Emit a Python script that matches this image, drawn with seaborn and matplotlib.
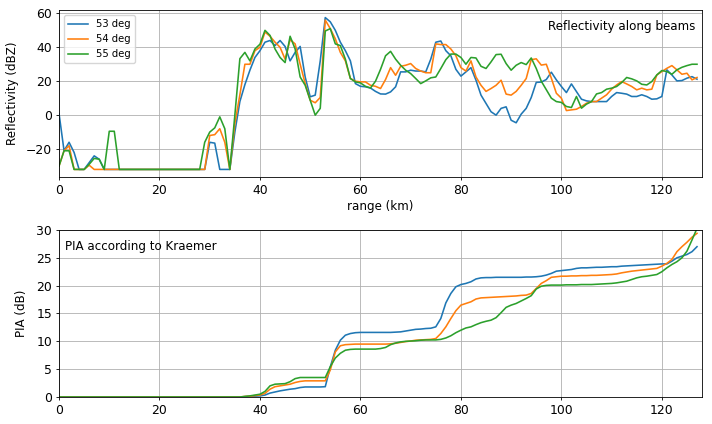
import matplotlib
matplotlib.use("Agg")
import matplotlib.pyplot as plt
import numpy as np
import pandas as pd
import seaborn as sns

# range bins (km)
rng = np.arange(128)
beams = ["53 deg", "54 deg", "55 deg"]
colors = ["#1f77b4", "#ff7f0e", "#2ca02c"]

# reflectivity along beams (dBZ)
refl_53 = [1, -21, -16, -22, -32, -32, -28, -24, -26, -32,
           -32, -32, -32, -32, -32, -32, -32, -32, -32, -32,
           -32, -32, -32, -32, -32, -32, -32, -32, -32, -32,
           -16, -16.5, -32, -32, -32, -10, 8, 18, 26.5, 34,
           38, 43, 44, 41, 44, 40.5, 32, 37, 40.5, 22.5,
           10.8, 11.8, 32, 57.5, 55, 50, 43, 38, 32, 18.6,
           17, 16.7, 16, 14, 12.5, 12.4, 13.7, 16.7, 25.5, 25.5,
           26.5, 26, 26, 25.5, 33, 43, 43.7, 38, 35, 27,
           23, 25.5, 28, 20.6, 11.8, 6.9, 2, 0, 4, 4.9,
           -3, -4.5, 0.6, 4, 10.4, 19.3, 19.5, 21, 25.3, 20.8,
           16.9, 13.3, 18.4, 13.9, 9.4, 8.4, 8, 8, 8, 8,
           11, 13.3, 12.9, 12.4, 11, 11, 12, 11, 9.4, 9.6,
           11, 26.7, 23.7, 20.2, 20.4, 21.8, 22.7, 21.2]
refl_54 = [-30, -21, -18, -32, -32, -32, -29.5, -32, -32, -32,
           -32, -32, -32, -32, -32, -32, -32, -32, -32, -32,
           -32, -32, -32, -32, -32, -32, -32, -32, -32, -32,
           -12, -11.5, -8, -16, -32, -5, 12, 30, 30, 38,
           40, 49, 46.5, 43, 40, 33, 44.5, 42, 30, 18.6,
           8.8, 7.3, 10.4, 56, 51, 45, 37, 32, 21.6, 20,
           19.6, 19.6, 17.6, 17, 15.7, 21, 28, 23.5, 28.8, 29.4,
           30.4, 27.5, 26, 25, 25, 42, 41.6, 41.6, 39, 35,
           28, 26, 32, 22.5, 17.6, 14, 15.7, 17.6, 20.6, 12.4,
           11.8, 14, 17.6, 21.6, 32.7, 33.2, 29.5, 30, 21.8, 12.9,
           10, 2.7, 3.1, 3.5, 5.1, 7, 8, 8, 10, 12,
           15.3, 17.8, 19.8, 18.4, 16.9, 14.9, 15.9, 14.9, 15.3, 23.7,
           25.7, 27.6, 29.2, 26.7, 24.1, 24.7, 20.8, 22.2]
refl_55 = [-30, -21, -21, -32, -32, -32, -29, -25.5, -26, -32,
           -9.5, -9.5, -32, -32, -32, -32, -32, -32, -32, -32,
           -32, -32, -32, -32, -32, -32, -32, -32, -32, -16,
           -10, -7.5, -1, -8, -32, 0, 33.3, 37, 32, 39,
           41.8, 50, 47, 39, 34, 31, 46.5, 39, 22.5, 17.6,
           8.8, 0, 4, 49.6, 51, 42, 41, 33, 21.6, 19.6,
           19, 17, 16, 20, 27, 35, 37.6, 33, 29.4, 26.5,
           24.5, 21.6, 18.6, 20.2, 22, 22.5, 27.5, 32.7, 36, 36,
           34, 30, 34, 33.7, 28.8, 27.5, 31.4, 35.7, 35.9, 30.4,
           26.5, 29.4, 31, 29.8, 33.7, 27.5, 20, 15, 10, 8,
           7.5, 5.1, 4.5, 11, 4.1, 6.5, 8, 12.5, 13.3, 15.3,
           15.9, 16.9, 19.2, 22.2, 21.4, 20.2, 18.2, 17.8, 19.8, 23.7,
           26.3, 25.7, 24.1, 26.7, 28.2, 29.2, 30, 30]

# path integrated attenuation (dB)
pia_53 = [0, 0, 0, 0, 0, 0, 0, 0, 0, 0,
          0, 0, 0, 0, 0, 0, 0, 0, 0, 0,
          0, 0, 0, 0, 0, 0, 0, 0, 0, 0,
          0, 0, 0, 0, 0, 0, 0, 0.05, 0.1, 0.15,
          0.2, 0.35, 0.7, 0.9, 1.1, 1.25, 1.4, 1.5, 1.7, 1.8,
          1.8, 1.8, 1.8, 1.85, 5.4, 8.4, 10.2, 11.1, 11.4, 11.55,
          11.6, 11.6, 11.6, 11.6, 11.6, 11.6, 11.6, 11.65, 11.7, 11.85,
          12.0, 12.15, 12.2, 12.3, 12.35, 12.6, 14.1, 16.9, 18.6, 19.8,
          20.2, 20.4, 20.7, 21.2, 21.4, 21.45, 21.45, 21.5, 21.5, 21.5,
          21.5, 21.5, 21.5, 21.55, 21.55, 21.6, 21.7, 21.9, 22.2, 22.6,
          22.7, 22.8, 22.9, 23.1, 23.2, 23.2, 23.25, 23.3, 23.3, 23.35,
          23.4, 23.4, 23.5, 23.55, 23.6, 23.65, 23.7, 23.75, 23.8, 23.85,
          23.9, 23.9, 24.4, 25.0, 25.3, 25.6, 26.1, 27.0]
pia_54 = [0, 0, 0, 0, 0, 0, 0, 0, 0, 0,
          0, 0, 0, 0, 0, 0, 0, 0, 0, 0,
          0, 0, 0, 0, 0, 0, 0, 0, 0, 0,
          0, 0, 0, 0, 0, 0, 0, 0.1, 0.15, 0.25,
          0.35, 0.65, 1.4, 1.85, 2.0, 2.15, 2.3, 2.6, 2.8, 2.9,
          2.9, 2.9, 2.9, 2.9, 4.85, 8.1, 9.2, 9.4, 9.45, 9.5,
          9.5, 9.5, 9.5, 9.5, 9.5, 9.5, 9.55, 9.65, 9.8, 9.95,
          10.05, 10.2, 10.25, 10.3, 10.35, 10.5, 11.4, 12.6, 14.1, 15.5,
          16.5, 16.8, 17.1, 17.6, 17.8, 17.85, 17.9, 17.95, 18.0, 18.05,
          18.1, 18.15, 18.25, 18.3, 18.6, 19.5, 20.4, 20.9, 21.5, 21.6,
          21.7, 21.7, 21.75, 21.75, 21.8, 21.8, 21.85, 21.85, 21.9, 21.95,
          22.0, 22.1, 22.3, 22.45, 22.6, 22.7, 22.8, 22.9, 23.0, 23.1,
          23.5, 24.0, 24.7, 26.1, 27.0, 27.8, 28.7, 29.4]
pia_55 = [0, 0, 0, 0, 0, 0, 0, 0, 0, 0,
          0, 0, 0, 0, 0, 0, 0, 0, 0, 0,
          0, 0, 0, 0, 0, 0, 0, 0, 0, 0,
          0, 0, 0, 0, 0, 0, 0, 0.1, 0.2, 0.35,
          0.5, 1.0, 2.0, 2.3, 2.35, 2.4, 2.75, 3.3, 3.5, 3.5,
          3.5, 3.5, 3.5, 3.5, 5.45, 7.0, 7.85, 8.4, 8.55, 8.6,
          8.6, 8.6, 8.6, 8.6, 8.7, 8.9, 9.4, 9.7, 9.9, 10.0,
          10.05, 10.1, 10.2, 10.25, 10.25, 10.25, 10.35, 10.6, 11.0, 11.55,
          12.0, 12.4, 12.6, 13.0, 13.35, 13.6, 13.8, 14.25, 15.15, 16.1,
          16.5, 16.8, 17.25, 17.7, 18.2, 19.4, 19.9, 20.05, 20.1, 20.1,
          20.1, 20.15, 20.15, 20.15, 20.2, 20.2, 20.2, 20.25, 20.3, 20.35,
          20.4, 20.5, 20.65, 20.8, 21.1, 21.4, 21.6, 21.7, 21.85, 22.0,
          22.5, 23.2, 23.8, 24.3, 25.0, 26.2, 28.2, 30.3]

frames = []
for beam, z, p in zip(beams, [refl_53, refl_54, refl_55], [pia_53, pia_54, pia_55]):
    frames.append(pd.DataFrame({"range": rng, "refl": z, "pia": p, "beam": beam}))
df = pd.concat(frames, ignore_index=True)

fs = 8.6
plt.rcParams["axes.linewidth"] = 0.6
plt.rcParams["grid.linewidth"] = 0.6
plt.rcParams["grid.color"] = "#b0b0b0"

fig = plt.figure(figsize=(7.12, 4.24), dpi=100)
ax1 = fig.add_axes([0.0829, 0.5825, 0.9031, 0.3939])
ax2 = fig.add_axes([0.0829, 0.0637, 0.9031, 0.3939])

sns.lineplot(data=df, x="range", y="refl", hue="beam", palette=colors, ax=ax1, linewidth=1.15)
ax1.set_xlim(0, 128)
ax1.set_xlabel("range (km)", fontsize=fs, labelpad=2.5)
ax1.set_ylabel("Reflectivity (dBZ)", fontsize=fs)
ax1.yaxis.set_label_coords(-0.062, 0.5)
ax1.grid(True)
ax1.legend(loc="upper left", fontsize=7.2)
ax1.text(0.989, 0.90, "Reflectivity along beams", transform=ax1.transAxes,
         ha="right", va="center", fontsize=fs)

sns.lineplot(data=df, x="range", y="pia", hue="beam", palette=colors, ax=ax2,
             linewidth=1.15, legend=False)
ax2.set_xlim(0, 128)
ax2.set_ylim(0, 30)
ax2.set_xlabel("")
ax2.set_ylabel("PIA (dB)", fontsize=fs)
ax2.yaxis.set_label_coords(-0.048, 0.5)
ax2.grid(True)
ax2.text(0.009, 0.90, "PIA according to Kraemer", transform=ax2.transAxes,
         ha="left", va="center", fontsize=fs)

for ax in (ax1, ax2):
    ax.tick_params(labelsize=8.9, length=2.5, width=0.6, pad=2.5)

fig.savefig("out.png", dpi=100)
